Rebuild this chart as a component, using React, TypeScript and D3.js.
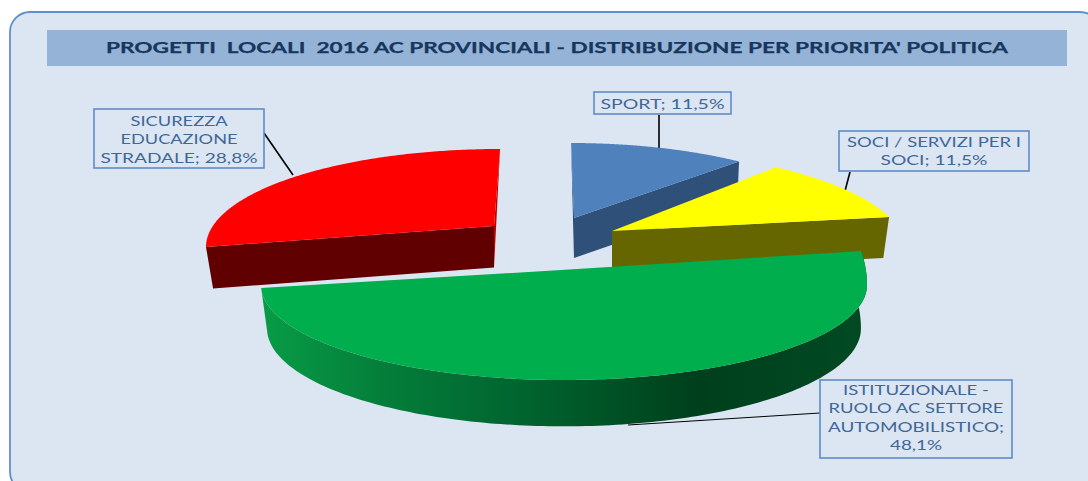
import React from "react";
import * as d3 from "d3";

const categories = ["ISTITUZIONALE", "SICUREZZA", "SPORT", "SOCI"];
const values = [48.1, 28.8, 11.5, 11.5];
const topColors = ["#00AE4E", "#FF0000", "#4F81BD", "#FFFF00"];
const wallColors = ["url(#greenWall)", "#600000", "#2F5078", "#666600"];
const sliverColors = ["none", "#C00000", "#27476E", "none"];
const titleText = "PROGETTI  LOCALI  2016 AC PROVINCIALI - DISTRIBUZIONE PER PRIORITA' POLITICA";

// pie starts at this angle (clockwise from 12 o'clock)
const firstSliceDeg = 78.7;

// Projection of each exploded slice (perspective warps the angles by from/to degrees)
const views = [
  { cx: 564, cy: 285, rx: 303, ry: 95, ryUp: 173, ax: 561, ay: 270, depth: 43.5, rxB: 0.98, ryB: 1.03, from: 0, to: 16.1 },
  { cx: 500, cy: 247, rx: 294, ry: 98, ryUp: 98, ax: 494, ay: 226, depth: 41.5, rxB: 0.976, ryB: 1, from: 18, to: 4.2 },
  { cx: 571, cy: 243, rx: 290, ry: 100, ryUp: 100, ax: 574, ay: 218, depth: 40, rxB: 0.99, ryB: 1, from: 4.2, to: -1.85 },
  { cx: 600, cy: 249, rx: 305, ry: 100, ryUp: 100, ax: 612, ay: 231, depth: 41, rxB: 0.98, ryB: 1, from: -2.05, to: -7.3 },
];
const drawOrder = [2, 3, 1, 0];

const labels = [
  { box: [820, 380, 192, 78], leader: [820, 413, 628, 425], thin: true,
    lines: [["ISTITUZIONALE -", 146, 395], ["RUOLO AC SETTORE", 175, 413], ["AUTOMOBILISTICO;", 176, 432], ["48,1%", 52, 450]] },
  { box: [94, 109, 170, 59], leader: [264, 133, 293, 175], thin: false,
    lines: [["SICUREZZA", 97, 126], ["EDUCAZIONE", 117, 144], ["STRADALE; 28,8%", 157, 163]] },
  { box: [594, 92, 137, 22], leader: [659, 115, 659, 148], thin: false,
    lines: [["SPORT; 11,5%", 124, 109]] },
  { box: [839, 131, 190, 40], leader: [850, 172, 845, 191], thin: false,
    lines: [["SOCI / SERVIZI PER I", 174, 147], ["SOCI; 11,5%", 107, 165]] },
];

const rad = (d: number) => (d * Math.PI) / 180;

export default function App() {
  const pie = d3
    .pie<number>()
    .sort(null)
    .startAngle(rad(firstSliceDeg))
    .endAngle(rad(firstSliceDeg) + 2 * Math.PI);
  const arcs = pie(values);

  const point = (v: (typeof views)[0], theta: number, bottom = false) => {
    const s = Math.sin(theta);
    const dx = v.rx * (bottom ? v.rxB : 1) * Math.cos(theta);
    const dy = (s < 0 ? v.ryUp : v.ry) * (bottom ? v.ryB : 1) * s;
    return [v.cx + dx, v.cy + dy + (bottom ? v.depth : 0)] as [number, number];
  };
  const line = d3.line();

  const slice = (i: number) => {
    const v = views[i];
    const a0 = arcs[i].startAngle - Math.PI / 2 + rad(v.from);
    const a1 = arcs[i].endAngle - Math.PI / 2 + rad(v.to);
    const angles = d3.range(0, 161).map((k) => a0 + ((a1 - a0) * k) / 160);
    const apex: [number, number] = [v.ax, v.ay];
    const apexB: [number, number] = [v.ax, v.ay + v.depth];
    const top = line([apex, ...angles.map((t) => point(v, t))]) + "Z";
    let wall = "";
    if (i === 0) {
      wall = line([...angles.map((t) => point(v, t)), ...angles.slice().reverse().map((t) => point(v, t, true))]) + "Z";
    } else if (i === 1) {
      wall = line([apex, point(v, a0), point(v, a0, true), apexB]) + "Z";
    } else {
      wall = line([apex, point(v, a1), point(v, a1, true), apexB]) + "Z";
    }
    const edge = i === 1 ? point(v, a1) : point(v, a0);
    const sliver = line([edge, apex, apexB]) + "Z";
    return (
      <g key={categories[i]}>
        <path d={wall} fill={wallColors[i]} />
        {sliverColors[i] !== "none" && <path d={sliver} fill={sliverColors[i]} />}
        <path d={top} fill={topColors[i]} />
      </g>
    );
  };

  return (
    <svg width={1088} height={481} style={{ position: "absolute", left: 0, top: 0 }}>
      <defs>
        <linearGradient id="greenWall" x1="0" x2="1" y1="0" y2="0">
          <stop offset="0" stopColor="#089C46" />
          <stop offset="0.2" stopColor="#047E3A" />
          <stop offset="0.48" stopColor="#005E2C" />
          <stop offset="0.72" stopColor="#003F1C" />
          <stop offset="1" stopColor="#004A22" />
        </linearGradient>
      </defs>
      <rect x={10} y={12} width={1090} height={480} rx={20} fill="#DCE6F2" stroke="#6090CC" strokeWidth={1.8} />
      <rect x={47} y={30} width={1020} height={36} fill="#95B3D7" />
      <text x={557} y={53} textAnchor="middle" textLength={902} lengthAdjust="spacingAndGlyphs" xmlSpace="preserve"
        fontFamily="Lato" fontWeight={700} fontSize={16} fill="#17365D" stroke="#17365D" strokeWidth={0.25}>{titleText}</text>
      {labels.map((l) => (
        <line key={"l" + l.box[0]} x1={l.leader[0]} y1={l.leader[1]} x2={l.leader[2]} y2={l.leader[3]} stroke="#000" strokeWidth={l.thin ? 1 : 1.6} />
      ))}
      {drawOrder.map(slice)}
      {labels.map((l) => (
        <g key={"b" + l.box[0]}>
          <rect x={l.box[0]} y={l.box[1]} width={l.box[2]} height={l.box[3]} fill="#DCE6F2" stroke="#5F8DC8" strokeWidth={1.6} />
          {l.lines.map((t) => (
            <text key={t[0] as string} x={l.box[0] + l.box[2] / 2} y={t[2] as number} textAnchor="middle"
              textLength={t[1] as number} lengthAdjust="spacingAndGlyphs"
              fontFamily="Lato" fontSize={14} fill="#3F6797">{t[0]}</text>
          ))}
        </g>
      ))}
    </svg>
  );
}
